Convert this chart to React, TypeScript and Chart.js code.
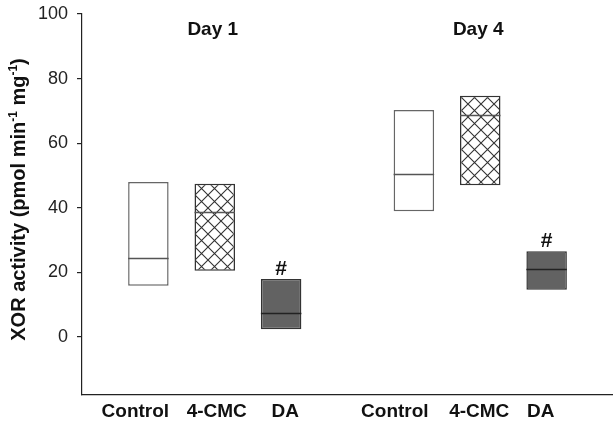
import React, { useEffect, useRef } from "react";
import { Chart, registerables } from "chart.js";

Chart.register(...registerables);

// Treatment groups per day; blank slots space out the two days
const categories = ["", "Control", "4-CMC", "DA", "", "Control", "4-CMC", "DA", ""];
const lowerValues = [null, 15.8, 20.5, 2.4, null, 38.9, 47.0, 14.6, null];
const upperValues = [null, 48.0, 47.4, 17.9, null, 70.3, 74.7, 26.5, null];
const medianValues = [null, 24.5, 38.8, 7.5, null, 50.5, 68.7, 21.0, null];
const significant = [false, false, false, true, false, false, false, true, false];
const dayLabels = ["Day 1", "Day 4"];
const dayGroupCenters = [2, 6]; // category index at the middle of each day's group
const yTicks = [0, 20, 40, 60, 80, 100];

const FONT = "'Liberation Sans', Arial, sans-serif";
// small horizontal nudges for the category captions under the axis
const captionNudge = [0, -13, 2, 4, 0, -19, -1, -6, 0];

function makeCrossHatch(): CanvasPattern | string {
  const size = 13;
  const c = document.createElement("canvas");
  c.width = size;
  c.height = size;
  const g = c.getContext("2d");
  if (!g) return "#fff";
  g.fillStyle = "#ffffff";
  g.fillRect(0, 0, size, size);
  g.strokeStyle = "#333333";
  g.lineWidth = 1.1;
  g.beginPath();
  g.moveTo(-1, -1);
  g.lineTo(size + 1, size + 1);
  g.moveTo(size + 1, -1);
  g.lineTo(-1, size + 1);
  g.stroke();
  return g.createPattern(c, "repeat") || "#fff";
}

const overlayPlugin = {
  id: "boxOverlay",
  afterDatasetsDraw(chart: any) {
    const { ctx, scales } = chart;
    const y = scales.y;
    const x = scales.x;
    const meta = chart.getDatasetMeta(0);
    ctx.save();
    // median lines inside each box
    meta.data.forEach((bar: any, i: number) => {
      const m = medianValues[i];
      if (m == null || !bar) return;
      const py = Math.round(y.getPixelForValue(m)) + 0.5;
      ctx.beginPath();
      ctx.strokeStyle = i === 3 || i === 7 ? "#222" : "#555";
      ctx.lineWidth = 1.3;
      ctx.moveTo(bar.x - bar.width / 2, py);
      ctx.lineTo(bar.x + bar.width / 2, py);
      ctx.stroke();
    });
    // significance marks
    ctx.fillStyle = "#111";
    ctx.font = `bold 21px ${FONT}`;
    ctx.textAlign = "center";
    ctx.textBaseline = "alphabetic";
    meta.data.forEach((bar: any, i: number) => {
      if (!significant[i] || upperValues[i] == null) return;
      const py = y.getPixelForValue(upperValues[i] as number);
      ctx.fillText("#", bar.x, py - 4);
    });
    // day headings
    ctx.font = `bold 19px ${FONT}`;
    ctx.textBaseline = "alphabetic";
    dayLabels.forEach((label, k) => {
      const px = x.getPixelForValue(dayGroupCenters[k]);
      ctx.fillText(label, px - 2, y.getPixelForValue(100) + 21);
    });
    // category captions
    categories.forEach((label, i) => {
      if (!label) return;
      ctx.fillText(label, x.getPixelForValue(i) + captionNudge[i], x.top + 22);
    });
    ctx.restore();
  },
  afterDraw(chart: any) {
    // rotated y-axis title with superscripts
    const { ctx, chartArea } = chart;
    const cy = (chartArea.top + chartArea.bottom) / 2 - 5;
    const parts: [string, boolean][] = [
      ["XOR activity (pmol min", false],
      ["-1", true],
      [" mg", false],
      ["-1", true],
      [")", false],
    ];
    const big = `bold 20px ${FONT}`;
    const small = `bold 12px ${FONT}`;
    ctx.save();
    let total = 0;
    parts.forEach(([t, sup]) => {
      ctx.font = sup ? small : big;
      total += ctx.measureText(t).width;
    });
    ctx.translate(25, cy);
    ctx.rotate(-Math.PI / 2);
    ctx.fillStyle = "#111";
    ctx.textBaseline = "alphabetic";
    ctx.textAlign = "left";
    let px = -total / 2;
    parts.forEach(([t, sup]) => {
      ctx.font = sup ? small : big;
      ctx.fillText(t, px, sup ? -8 : 0);
      px += ctx.measureText(t).width;
    });
    ctx.restore();
  },
};

export default function App() {
  const ref = useRef<HTMLCanvasElement | null>(null);

  useEffect(() => {
    if (!ref.current) return;
    const hatch = makeCrossHatch();
    const fills = categories.map((_, i) =>
      i === 2 || i === 6 ? hatch : i === 3 || i === 7 ? "#626262" : "#ffffff"
    );
    const borders = categories.map((_, i) =>
      i === 1 || i === 5 ? "#666666" : "#333333"
    );
    const data = categories.map((_, i) =>
      lowerValues[i] == null ? null : [lowerValues[i], upperValues[i]]
    );

    const chart = new Chart(ref.current, {
      type: "bar",
      data: {
        labels: categories,
        datasets: [
          {
            data: data as any,
            backgroundColor: fills as any,
            borderColor: borders,
            borderWidth: 1.5,
            borderSkipped: false,
            barPercentage: 0.61,
            categoryPercentage: 1,
          },
        ],
      },
      options: {
        animation: false,
        responsive: true,
        maintainAspectRatio: false,
        layout: { padding: { top: 14, right: 0, left: 0, bottom: 0 } },
        plugins: {
          legend: { display: false },
          tooltip: { enabled: false },
        },
        scales: {
          x: {
            offset: false,
            grid: { display: false },
            border: { display: true, color: "#222", width: 1.2 },
            ticks: { display: false },
            afterFit: (s: any) => {
              s.height = 27;
            },
          },
          y: {
            min: -18,
            max: 100,
            afterBuildTicks: (s: any) => {
              s.ticks = yTicks.map((v) => ({ value: v }));
            },
            grid: {
              display: true,
              drawOnChartArea: false,
              drawTicks: true,
              tickLength: 5,
              color: "#222",
              lineWidth: 1.2,
            },
            border: { display: true, color: "#222", width: 1.2 },
            ticks: {
              color: "#222",
              font: { family: FONT, size: 18 },
              padding: 9,
            },
            afterFit: (s: any) => {
              s.width = 82;
              s.paddingTop = 0;
              s.paddingBottom = 0;
            },
          },
        },
      },
      plugins: [overlayPlugin],
    });
    return () => chart.destroy();
  }, []);

  return (
    <div style={{ position: "fixed", left: 0, top: 0, width: 613, height: 422, background: "#fff" }}>
      <canvas ref={ref} />
    </div>
  );
}
